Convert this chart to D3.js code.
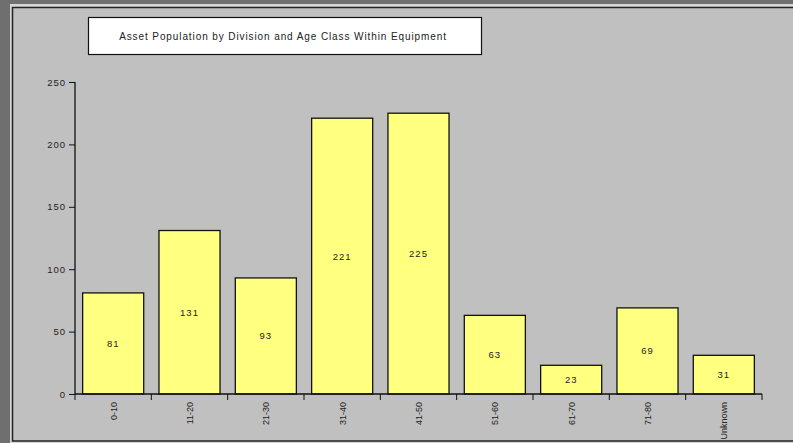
<!DOCTYPE html>
<html>
<head>
<meta charset="utf-8">
<script src="https://cdn.jsdelivr.net/npm/d3@7"></script>
<style>
  body { margin: 0; background: #6f6f6f; }
  svg { display: block; }
</style>
</head>
<body>
<svg></svg>
<script>
  // Chart data
  const categories = ["0-10", "11-20", "21-30", "31-40", "41-50", "51-60", "61-70", "71-80", "Unknown"];
  const counts = [81, 131, 93, 221, 225, 63, 23, 69, 31];
  const yTicks = [0, 50, 100, 150, 200, 250];
  const title = "Asset Population by Division and Age Class Within Equipment";

  const width = 793;
  const height = 443;
  const margin = {top: 82, right: 31, bottom: 49, left: 75};

  const svg = d3.select("svg")
      .attr("width", width)
      .attr("height", height)
      .style("font-family", "'Liberation Sans', Arial, sans-serif");

  // Panel
  svg.append("rect")
      .attr("x", 10).attr("y", 4)
      .attr("width", width - 10).attr("height", height - 4)
      .attr("fill", "#d6d6d6");
  svg.append("rect")
      .attr("x", 12.5).attr("y", 7.5)
      .attr("width", width).attr("height", 433.5)
      .attr("fill", "#c0c0c0")
      .attr("stroke", "#222")
      .attr("stroke-width", 1.5);

  // Title box
  svg.append("rect")
      .attr("x", 88.5).attr("y", 17.5)
      .attr("width", 393).attr("height", 37)
      .attr("fill", "#fff")
      .attr("stroke", "#111")
      .attr("stroke-width", 1.2);
  svg.append("text")
      .attr("x", 283).attr("y", 40)
      .attr("text-anchor", "middle")
      .style("font-size", "10px")
      .style("letter-spacing", "0.9px")
      .attr("fill", "#222")
      .text(title);

  const x = d3.scaleBand()
      .domain(categories)
      .range([margin.left, width - margin.right])
      .paddingInner(0.2)
      .paddingOuter(0.1);

  const y = d3.scaleLinear()
      .domain([0, 250])
      .range([height - margin.bottom, margin.top]);

  // Bars
  svg.append("g")
    .selectAll("rect")
    .data(categories)
    .join("rect")
      .attr("x", d => x(d))
      .attr("y", (d, i) => y(counts[i]))
      .attr("width", x.bandwidth())
      .attr("height", (d, i) => y(0) - y(counts[i]))
      .attr("fill", "#ffff80")
      .attr("stroke", "#111")
      .attr("stroke-width", 1.3);

  // Value labels
  svg.append("g")
    .selectAll("text")
    .data(categories)
    .join("text")
      .attr("x", d => x(d) + x.bandwidth() / 2)
      .attr("y", (d, i) => (y(counts[i]) + y(0)) / 2 + 3.5)
      .attr("text-anchor", "middle")
      .style("font-size", "9.5px")
      .style("letter-spacing", "1px")
      .attr("fill", "#222")
      .text((d, i) => counts[i]);

  // Y axis
  const yAxis = svg.append("g")
      .attr("transform", `translate(${margin.left},0)`)
      .call(d3.axisLeft(y).tickValues(yTicks).tickSize(6).tickPadding(3));
  yAxis.select(".domain").attr("stroke", "#111").attr("stroke-width", 1.3).attr("d", `M0,${y(250)}V${y(0)}`);
  yAxis.selectAll(".tick line").attr("stroke", "#111");
  yAxis.selectAll(".tick text")
      .style("font-family", "'Liberation Sans', Arial, sans-serif")
      .style("font-size", "9.5px")
      .style("letter-spacing", "1px")
      .attr("fill", "#222");

  // X axis with ticks on band boundaries
  const xAxisG = svg.append("g")
      .attr("transform", `translate(0,${y(0)})`);
  xAxisG.append("line")
      .attr("x1", margin.left).attr("x2", width - margin.right)
      .attr("stroke", "#111").attr("stroke-width", 1.3);
  const step = x.step();
  const bounds = d3.range(categories.length + 1).map(i => margin.left + i * step);
  xAxisG.selectAll(".bt")
    .data(bounds)
    .join("line")
      .attr("class", "bt")
      .attr("x1", d => d).attr("x2", d => d)
      .attr("y1", 0).attr("y2", 6)
      .attr("stroke", "#111");
  xAxisG.selectAll(".lbl")
    .data(categories)
    .join("text")
      .attr("class", "lbl")
      .attr("transform", d => `translate(${x(d) + x.bandwidth() / 2 + 3.5},8) rotate(-90)`)
      .attr("text-anchor", "end")
      .style("font-size", "9px")
      .attr("fill", "#222")
      .text(d => d);
</script>
</body>
</html>
